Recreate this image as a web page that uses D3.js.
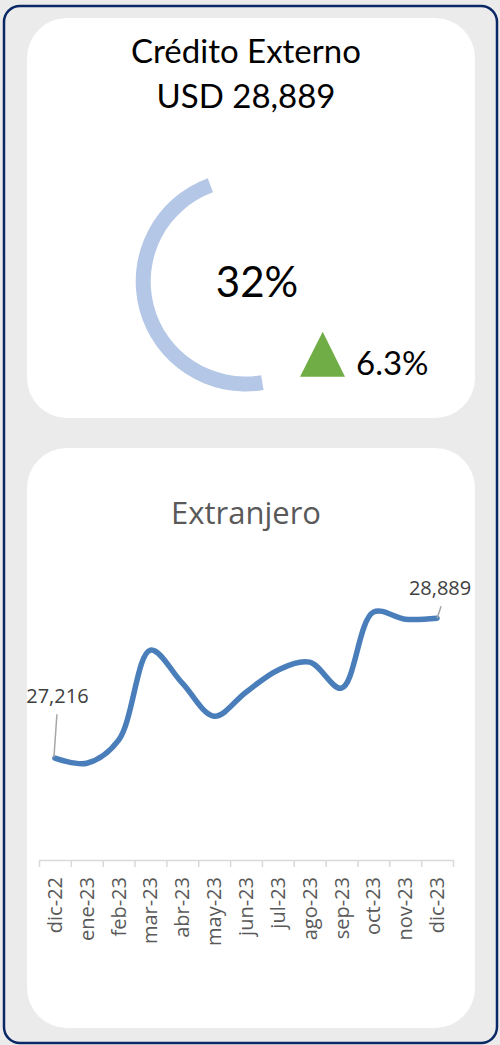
<!DOCTYPE html>
<html>
<head>
<meta charset="utf-8">
<script src="https://cdn.jsdelivr.net/npm/d3@7"></script>
<style>
  body { margin: 0; background: #ebebeb; }
  svg { display: block; }
</style>
</head>
<body>
<svg id="chart"></svg>
<script>
// header card
const titleLines = ["Crédito Externo", "USD 28,889"];
const gaugeLabel = "32%";
const changeLabel = "6.3%";
// doughnut slices (percent of the ring), only the middle one is painted
const gaugeSlices = [47.4, 47.0, 5.6];
const gaugeColors = ["none", "#b4c7e7", "none"];

// line card
const lineTitle = "Extranjero";
const months = ["dic-22", "ene-23", "feb-23", "mar-23", "abr-23", "may-23", "jun-23",
  "jul-23", "ago-23", "sep-23", "oct-23", "nov-23", "dic-23"];
const values = [27216, 27156, 27431, 28507, 28112, 27718, 28005,
  28268, 28363, 28053, 28961, 28877, 28889];
const yDomain = [26000, 29500];

const W = 500, H = 1045;
const svg = d3.select("#chart").attr("width", W).attr("height", H);

// outer frame
svg.append("rect")
  .attr("x", 4).attr("y", 6).attr("width", 493).attr("height", 1037)
  .attr("rx", 16)
  .attr("fill", "#ebebeb")
  .attr("stroke", "#0b2866")
  .attr("stroke-width", 2.5);

// the two white cards
const cards = [[18, 418], [448, 1028]];
svg.selectAll("rect.card")
  .data(cards)
  .enter()
  .append("rect")
  .attr("class", "card")
  .attr("x", 27).attr("width", 448)
  .attr("y", (d) => d[0])
  .attr("height", (d) => d[1] - d[0])
  .attr("rx", 40)
  .attr("fill", "#fff");

const calibri = "Lato, 'Noto Sans', sans-serif";
const segoe = "'Open Sans', 'Noto Sans', sans-serif";

// titles
svg.append("g")
  .selectAll("text")
  .data(titleLines)
  .enter()
  .append("text")
  .attr("x", 246)
  .attr("y", (d, i) => 63 + i * 45)
  .attr("text-anchor", "middle")
  .attr("font-family", calibri)
  .attr("font-size", 33)
  .attr("fill", "#000")
  .text((d) => d);

// gauge ring
const gauge = svg.append("g").attr("transform", "translate(245.7,281.5)");
const pie = d3.pie().sort(null).value((d) => d);
const arc = d3.arc().innerRadius(95).outerRadius(110);
gauge.selectAll("path")
  .data(pie(gaugeSlices))
  .enter()
  .append("path")
  .attr("d", arc)
  .attr("fill", (d, i) => gaugeColors[i]);

svg.append("text")
  .attr("x", 257).attr("y", 297)
  .attr("text-anchor", "middle")
  .attr("font-family", calibri)
  .attr("font-size", 42)
  .attr("fill", "#000")
  .text(gaugeLabel);

// up arrow
const tri = [[300, 376.7], [345, 376.7], [322.7, 331.7]];
svg.append("path")
  .attr("d", d3.line()(tri) + "Z")
  .attr("fill", "#70ad47");

svg.append("text")
  .attr("x", 356).attr("y", 375)
  .attr("font-family", calibri)
  .attr("font-size", 33)
  .attr("fill", "#000")
  .text(changeLabel);

// ---- line chart ----
svg.append("text")
  .attr("x", 246).attr("y", 524)
  .attr("text-anchor", "middle")
  .attr("font-family", segoe)
  .attr("font-size", 31)
  .attr("fill", "#595959")
  .text(lineTitle);

const x = d3.scaleBand().domain(months).range([39, 453]);
const y = d3.scaleLinear().domain(yDomain).range([860, 567]);
const cx = (m) => x(m) + x.bandwidth() / 2;

// tick marks sit on the category boundaries
const edges = d3.scaleLinear().domain([0, months.length]).range([39, 453]);
svg.append("g")
  .attr("transform", "translate(0,860)")
  .call(
    d3.axisBottom(edges).ticks(months.length).tickSize(7).tickSizeOuter(0).tickFormat("")
  )
  .call((g) => g.selectAll("line, path").attr("stroke", "#d9d9d9").attr("stroke-width", 1.5));

svg.append("g")
  .attr("transform", "translate(0,860)")
  .call(d3.axisBottom(x).tickSize(0))
  .call((g) => g.select(".domain").remove())
  .call((g) =>
    g.selectAll(".tick text")
      .attr("transform", "rotate(-90)")
      .attr("x", -17)
      .attr("y", 0)
      .attr("dy", "0.35em")
      .attr("text-anchor", "end")
      .attr("font-family", segoe)
      .attr("font-size", 20)
      .attr("fill", "#595959")
  );

const line = d3.line()
  .x((d, i) => cx(months[i]))
  .y((d) => y(d))
  .curve(d3.curveCatmullRom.alpha(0.5));

svg.append("path")
  .datum(values)
  .attr("d", line)
  .attr("fill", "none")
  .attr("stroke", "#4a7ebb")
  .attr("stroke-width", 5.5)
  .attr("stroke-linecap", "round")
  .attr("stroke-linejoin", "round");

// data labels on first and last point, with leader lines
const fmt = d3.format(",");
const callouts = [
  { i: 0, lx: 2.5, ly: -55, l1: [2, -44], l2: [-1, -1] },
  { i: values.length - 1, lx: 3, ly: -23, l1: [4, -12], l2: [0, 0] },
];
const co = svg.append("g");
co.selectAll("line")
  .data(callouts)
  .enter()
  .append("line")
  .attr("x1", (d) => cx(months[d.i]) + d.l1[0])
  .attr("y1", (d) => y(values[d.i]) + d.l1[1])
  .attr("x2", (d) => cx(months[d.i]) + d.l2[0])
  .attr("y2", (d) => y(values[d.i]) + d.l2[1])
  .attr("stroke", "#a6a6a6")
  .attr("stroke-width", 1.5);
co.selectAll("text")
  .data(callouts)
  .enter()
  .append("text")
  .attr("x", (d) => cx(months[d.i]) + d.lx)
  .attr("y", (d) => y(values[d.i]) + d.ly)
  .attr("text-anchor", "middle")
  .attr("font-family", segoe)
  .attr("font-size", 20)
  .attr("fill", "#404040")
  .text((d) => fmt(values[d.i]));
</script>
</body>
</html>
